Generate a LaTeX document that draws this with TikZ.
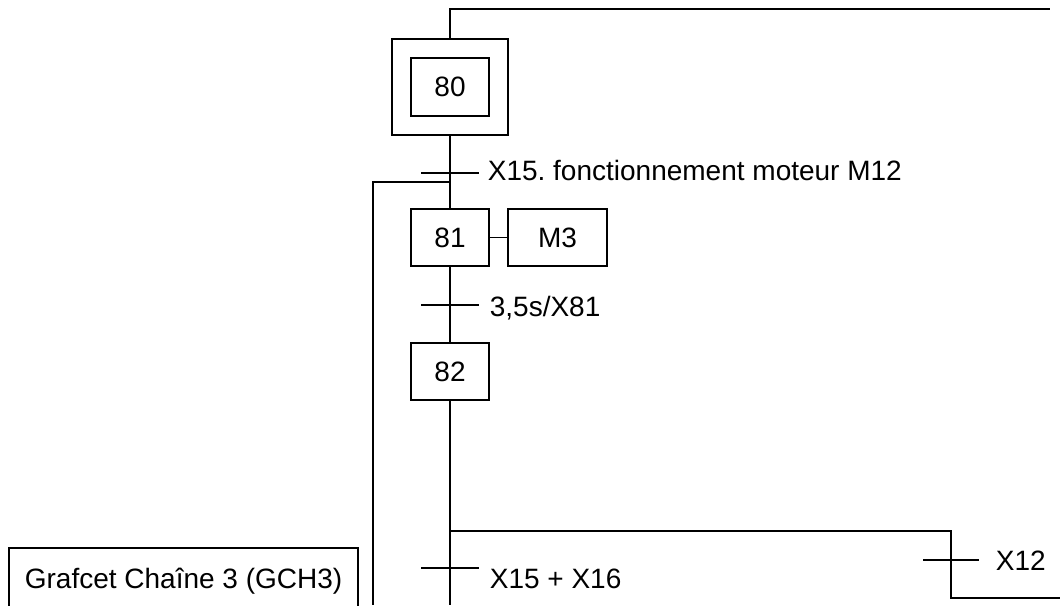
\documentclass[tikz,border=0pt]{standalone}
\usepackage{fontspec}
\setmainfont{Liberation Sans}
\frenchspacing
\begin{document}
\begin{tikzpicture}[x=1pt,y=-1pt,line width=1.7pt,
  txt/.style={font=\fontsize{28}{32}\selectfont},
  stepbox/.style={draw,txt,inner sep=0pt,minimum width=78pt,minimum height=57pt},
  lbl/.style={txt,anchor=base west,inner sep=0pt},
  tick/.style={line width=1.5pt}]
\useasboundingbox (0,0) rectangle (1060,605);
% steps
\node[draw,minimum width=116pt,minimum height=96pt,inner sep=0pt] (s80) at (450,87) {};
\node[stepbox,minimum height=58pt] (s80i) at (450,87) {80};
\node[stepbox] (s81) at (450,237.5) {81};
\node[stepbox,minimum width=99pt] (m3) at (557.5,237.5) {M3};
\node[stepbox] (s82) at (450,371.5) {82};
\node[draw,txt,inner sep=0pt,minimum width=349pt,minimum height=80pt,anchor=north west] (g) at (8,547) {};
\node[lbl] (gl) at (24,588) {Grafcet Chaîne 3 (GCH3)};
% coordinates
\coordinate (top) at (450,9);
\coordinate (topR) at (1050,9);
\coordinate (jL) at (450,182);
\coordinate (lTop) at (373,182);
\coordinate (lBot) at (373,605);
\coordinate (mainBot) at (450,605);
\coordinate (jR) at (450,531);
\coordinate (rTop) at (951,531);
\coordinate (rBot) at (951,598);
\coordinate (rEnd) at (1060,598);
% links
\draw (s80.north) -- (top) -- (topR);
\draw (s80.south) -- (s81.north);
\draw (jL) -- (lTop) -- (lBot);
\draw (s81.east) -- (m3.west);
\draw (s81.south) -- (s82.north);
\draw (s82.south) -- (mainBot);
\draw (jR) -- (rTop) -- (rBot) -- (rEnd);
% transitions
\coordinate (t1) at (450,173);
\coordinate (t2) at (450,305);
\coordinate (t3) at (450,568);
\coordinate (t4) at (951,560);
\draw[tick] ([xshift=-29pt]t1) -- ([xshift=29pt]t1);
\draw[tick] ([xshift=-29pt]t2) -- ([xshift=29pt]t2);
\draw[tick] ([xshift=-29pt]t3) -- ([xshift=29pt]t3);
\draw[tick] ([xshift=-28pt]t4) -- ([xshift=28pt]t4);
\node[lbl] (l1) at (487,180) {X15. fonctionnement moteur M12};
\node[lbl] (l2) at (489,316) {3,5s/X81};
\node[lbl] (l3) at (489,588) {X15 + X16};
\node[lbl] (l4) at (995,570) {X12};
\end{tikzpicture}
\end{document}
